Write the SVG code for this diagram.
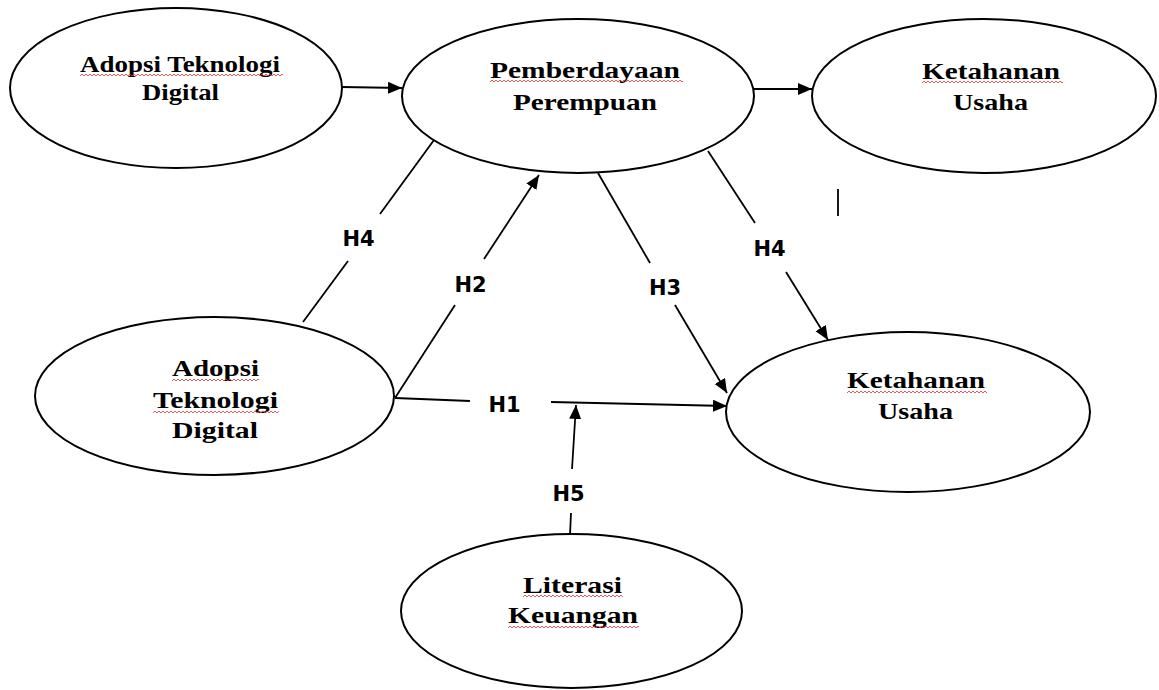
<svg xmlns="http://www.w3.org/2000/svg" width="1159" height="690" viewBox="0 0 1159 690">
  <style>
    .node ellipse { fill: #ffffff; stroke: #000000; stroke-width: 2; }
    .lbl { font-family: "Liberation Serif", "Times New Roman", serif; font-weight: bold; font-size: 22.5px; fill: #000000; }
    .hyp { font-family: "DejaVu Sans", "Verdana", sans-serif; font-weight: bold; font-size: 21px; fill: #000000; text-anchor: middle; }
    .edge { stroke: #000000; stroke-width: 1.8; fill: none; }
    .sq { fill: url(#wave); }
  </style>
  <defs>
    <marker id="arrow" markerUnits="userSpaceOnUse" markerWidth="16" markerHeight="14" refX="14" refY="6" orient="auto">
      <path d="M0,0 L14,6 L0,12 Z" fill="#000000"/>
    </marker>
    <pattern id="wave" patternUnits="userSpaceOnUse" width="4" height="4">
      <path d="M0,3 L2,1 L4,3" fill="none" stroke="#e03030" stroke-width="0.8"/>
    </pattern>
  </defs>
  <rect width="1159" height="690" fill="#ffffff"/>

  <g id="connectors">
    <line class="edge" x1="342" y1="87" x2="402" y2="88" marker-end="url(#arrow)"/>
    <line class="edge" x1="754" y1="89" x2="812" y2="89" marker-end="url(#arrow)"/>
    <line class="edge" x1="434" y1="140" x2="380" y2="214"/>
    <line class="edge" x1="348" y1="261" x2="303" y2="322"/>
    <line class="edge" x1="395" y1="398" x2="455" y2="305"/>
    <line class="edge" x1="484" y1="259" x2="539" y2="175" marker-end="url(#arrow)"/>
    <line class="edge" x1="395" y1="398" x2="470" y2="401"/>
    <line class="edge" x1="551" y1="402" x2="727" y2="406" marker-end="url(#arrow)"/>
    <line class="edge" x1="598" y1="173" x2="650" y2="263"/>
    <line class="edge" x1="675" y1="305" x2="727" y2="393" marker-end="url(#arrow)"/>
    <line class="edge" x1="708" y1="151" x2="755" y2="223"/>
    <line class="edge" x1="786" y1="272" x2="828" y2="340" marker-end="url(#arrow)"/>
    <line class="edge" x1="570" y1="535" x2="571" y2="513"/>
    <line class="edge" x1="572" y1="469" x2="576" y2="405" marker-end="url(#arrow)"/>
    <line class="edge" x1="838" y1="189" x2="838" y2="216"/>
    <text class="hyp" x="358.5" y="246">H4</text>
    <text class="hyp" x="470.5" y="292">H2</text>
    <text class="hyp" x="665" y="295">H3</text>
    <text class="hyp" x="769.5" y="256">H4</text>
    <text class="hyp" x="504.5" y="412">H1</text>
    <text class="hyp" x="568.5" y="501">H5</text>
  </g>

  <g id="adopsi-top" class="node">
    <ellipse cx="176" cy="88" rx="166" ry="80"/>
    <text class="lbl" x="80" y="72" textLength="200" lengthAdjust="spacingAndGlyphs">Adopsi Teknologi</text>
    <text class="lbl" x="142" y="100" textLength="77" lengthAdjust="spacingAndGlyphs">Digital</text>
    <rect class="sq" x="0" y="0" width="203" height="4" transform="translate(80,73)"/>
  </g>

  <g id="pemberdayaan" class="node">
    <ellipse cx="578" cy="96" rx="176" ry="77"/>
    <text class="lbl" x="490" y="78" textLength="190" lengthAdjust="spacingAndGlyphs">Pemberdayaan</text>
    <text class="lbl" x="513" y="110" textLength="144" lengthAdjust="spacingAndGlyphs">Perempuan</text>
    <rect class="sq" x="0" y="0" width="193" height="4" transform="translate(490,79)"/>
  </g>

  <g id="ketahanan-top" class="node">
    <ellipse cx="984" cy="96" rx="172" ry="77"/>
    <text class="lbl" x="922" y="79" textLength="138" lengthAdjust="spacingAndGlyphs">Ketahanan</text>
    <text class="lbl" x="953" y="110" textLength="75" lengthAdjust="spacingAndGlyphs">Usaha</text>
    <rect class="sq" x="0" y="0" width="141" height="4" transform="translate(922,80)"/>
  </g>

  <g id="adopsi-bottom" class="node">
    <ellipse cx="214.5" cy="396" rx="179.5" ry="79"/>
    <text class="lbl" x="172" y="376" textLength="87" lengthAdjust="spacingAndGlyphs">Adopsi</text>
    <text class="lbl" x="153" y="408" textLength="125" lengthAdjust="spacingAndGlyphs">Teknologi</text>
    <text class="lbl" x="172" y="438" textLength="86" lengthAdjust="spacingAndGlyphs">Digital</text>
    <rect class="sq" x="0" y="0" width="87" height="4" transform="translate(172,378)"/>
    <rect class="sq" x="0" y="0" width="126" height="4" transform="translate(153,410)"/>
  </g>

  <g id="ketahanan-bottom" class="node">
    <ellipse cx="908" cy="412" rx="182" ry="80"/>
    <text class="lbl" x="847" y="388" textLength="138" lengthAdjust="spacingAndGlyphs">Ketahanan</text>
    <text class="lbl" x="878" y="419" textLength="75" lengthAdjust="spacingAndGlyphs">Usaha</text>
    <rect class="sq" x="0" y="0" width="140" height="4" transform="translate(847,390)"/>
  </g>

  <g id="literasi" class="node">
    <ellipse cx="571.5" cy="611" rx="170.5" ry="77"/>
    <text class="lbl" x="523" y="593" textLength="99" lengthAdjust="spacingAndGlyphs">Literasi</text>
    <text class="lbl" x="508" y="623" textLength="130" lengthAdjust="spacingAndGlyphs">Keuangan</text>
    <rect class="sq" x="0" y="0" width="100" height="4" transform="translate(523,594)"/>
    <rect class="sq" x="0" y="0" width="131" height="4" transform="translate(508,625)"/>
  </g>
</svg>
